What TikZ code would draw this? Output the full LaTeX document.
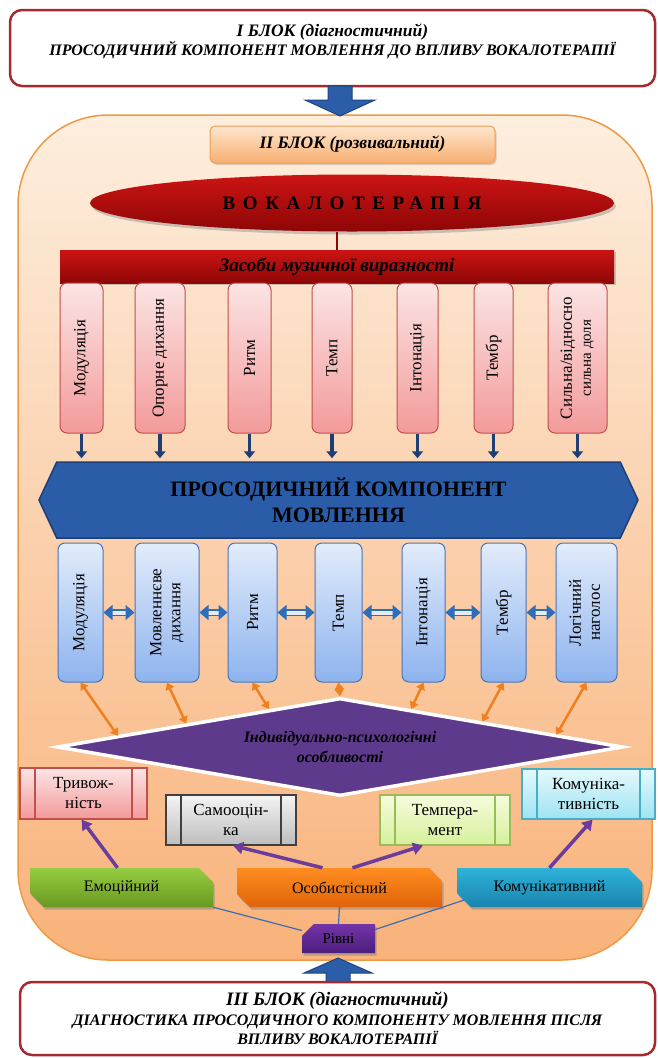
\documentclass[tikz,border=0pt]{standalone}
\usepackage{fontspec}
\setmainfont{Liberation Serif}
\newfontfamily\spacedfont[LetterSpace=40]{Liberation Serif}
\usetikzlibrary{positioning, shapes, arrows.meta, shadows, calc}

\definecolor{blkred}{HTML}{A52A2D}
\definecolor{arrblue}{HTML}{2C5DA8}
\definecolor{arredge}{HTML}{1E4680}
\definecolor{contedge}{HTML}{EE9A45}
\definecolor{conttop}{HTML}{FDEEDE}
\definecolor{contbot}{HTML}{F9B27A}
\definecolor{peachedge}{HTML}{EEA055}
\definecolor{peachtop}{HTML}{FDE6CE}
\definecolor{peachbot}{HTML}{F8AE70}
\definecolor{redtop}{HTML}{CC1414}
\definecolor{redbot}{HTML}{8E0606}
\definecolor{pinkedge}{HTML}{C0504D}
\definecolor{pinktop}{HTML}{FCE4E4}
\definecolor{pinkbot}{HTML}{F39A9A}
\definecolor{navy}{HTML}{1F3F73}
\definecolor{hexblue}{HTML}{2A5CA8}
\definecolor{hexedge}{HTML}{1C3F78}
\definecolor{bluetop}{HTML}{E2ECFB}
\definecolor{bluebot}{HTML}{8DB3EE}
\definecolor{blueedge}{HTML}{4A74B8}
\definecolor{dblblue}{HTML}{2E6DB8}
\definecolor{orangearr}{HTML}{F07F1E}
\definecolor{diampurple}{HTML}{5D3A8C}
\definecolor{arrviolet}{HTML}{6A3D9C}
\definecolor{thinblue}{HTML}{3A6DB5}
\definecolor{grayedge}{HTML}{404040}
\definecolor{graytop}{HTML}{F4F4F4}
\definecolor{graybot}{HTML}{BDBDBD}
\definecolor{limeedge}{HTML}{9BBB59}
\definecolor{limetop}{HTML}{F6FCDD}
\definecolor{limebot}{HTML}{D6F09A}
\definecolor{cyanedge}{HTML}{4BACC6}
\definecolor{cyantop}{HTML}{E4F9FD}
\definecolor{cyanbot}{HTML}{9FE3F2}
\definecolor{greentop}{HTML}{96CC42}
\definecolor{greenbot}{HTML}{68991F}
\definecolor{orangetop}{HTML}{FF8C20}
\definecolor{orangebot}{HTML}{E0640A}
\definecolor{tealtop}{HTML}{2DB2DA}
\definecolor{tealbot}{HTML}{1A84AE}
\definecolor{plumtop}{HTML}{7434A6}
\definecolor{plumbot}{HTML}{4C1E7E}

\begin{document}
\begin{tikzpicture}[x=1pt, y=-1pt,
  block/.style={draw=blkred, line width=2.5pt, rounded corners=12pt, fill=white, align=center,
    font=\fontsize{16}{17}\selectfont\bfseries\itshape},
  tool/.style={draw=pinkedge, line width=1pt, rounded corners=7pt, top color=pinktop, bottom color=pinkbot,
    minimum height=150pt, inner sep=0pt, font=\fontsize{17}{19}\selectfont},
  part/.style={draw=blueedge, line width=1pt, rounded corners=7pt, top color=bluetop, bottom color=bluebot,
    minimum height=139pt, inner sep=0pt, font=\fontsize{17}{19}\selectfont},
  trait/.style={draw=#1, line width=1.2pt, minimum height=50pt, align=center, font=\fontsize{17}{20}\selectfont,
    path picture={
      \draw[#1, line width=1.2pt] ([xshift=15pt]path picture bounding box.north west) -- ([xshift=15pt]path picture bounding box.south west);
      \draw[#1, line width=1.2pt] ([xshift=-15pt]path picture bounding box.north east) -- ([xshift=-15pt]path picture bounding box.south east);}},
  tier/.style={chamfered rectangle, chamfered rectangle corners={north east, south west},
    chamfered rectangle xsep=7pt, chamfered rectangle ysep=7pt, minimum height=39pt, inner sep=0pt,
    font=\fontsize{16}{18}\selectfont, drop shadow={shadow xshift=1.5pt, shadow yshift=-2.5pt, opacity=0.5}},
  feed/.style={navy, line width=3.5pt, shorten >=3pt, -{Triangle[length=7pt, width=11pt]}},
  link/.style={dblblue, line width=1.5pt, double=bluetop, double distance=4pt,
    {Triangle[length=9pt, width=15pt]}-{Triangle[length=9pt, width=15pt]}},
  tie/.style={orangearr, line width=2.5pt, {Triangle[length=7pt, width=9pt]}-{Triangle[length=7pt, width=9pt]}},
  rise/.style={arrviolet, line width=3.5pt, -{Triangle[length=10pt, width=12pt]}},
  wire/.style={thinblue, line width=1.2pt},
  bigarrow/.style={fill=arrblue, draw=arredge, line width=1pt}
]
  \useasboundingbox (0,0) rectangle (658,1058);
  \node[draw=contedge, line width=1.5pt, rounded corners=90pt, top color=conttop, bottom color=contbot,
    minimum width=634pt, minimum height=845pt] (cont) at (335,537.5) {};

  \node[block, minimum width=645pt, minimum height=76pt] (blockone) at (332.5,48)
    {{\fontsize{17.5}{17}\selectfont I БЛОК (діагностичний)}\\ПРОСОДИЧНИЙ КОМПОНЕНТ МОВЛЕННЯ ДО ВПЛИВУ ВОКАЛОТЕРАПІЇ\\ \mbox{}};
  \filldraw[bigarrow] (328,86) -- (352,86) -- (352,100) -- (375,100) -- (340,116) -- (305,100) -- (328,100) -- cycle;

  \node[draw=peachedge, line width=1pt, rounded corners=5pt, top color=peachtop, bottom color=peachbot,
    minimum width=285pt, minimum height=37pt, font=\fontsize{17.5}{19}\selectfont\bfseries\itshape,
    drop shadow={shadow xshift=1.5pt, shadow yshift=-2pt, opacity=0.3}] (blocktwo) at (352.5,144.5) {II БЛОК (розвивальний)};

  \node[ellipse, top color=redtop, bottom color=redbot, minimum width=524pt, minimum height=57pt,
    drop shadow={shadow xshift=2pt, shadow yshift=-3pt, opacity=0.4},
    font=\fontsize{19}{21}\selectfont\spacedfont\bfseries] (voc) at (352,203) {ВОКАЛОТЕРАПІЯ};
  \node[rectangle, top color=redtop, bottom color=redbot, minimum width=554pt, minimum height=33pt,
    drop shadow={shadow xshift=1.5pt, shadow yshift=-2pt, opacity=0.4},
    font=\fontsize{19}{21}\selectfont\bfseries\itshape] (means) at (337,266.5) {Засоби музичної виразності};
  \draw[redbot, line width=2.5pt] (means.north) -- (means.north |- voc.south);

  \node[tool, minimum width=43pt] (modul) at (81.5,358) {\rotatebox{90}{Модуляція}};
  \node[tool, minimum width=50pt] (breath) at (160,358) {\rotatebox{90}{Опорне дихання}};
  \node[tool, minimum width=43pt] (rhythm) at (249.5,358) {\rotatebox{90}{Ритм}};
  \node[tool, minimum width=40pt] (tempo) at (332,358) {\rotatebox{90}{Темп}};
  \node[tool, minimum width=41pt] (inton) at (417.5,358) {\rotatebox{90}{Інтонація}};
  \node[tool, minimum width=39pt] (timbre) at (493.5,358) {\rotatebox{90}{Тембр}};
  \node[tool, minimum width=59pt] (beat) at (577.5,358)
    {\rotatebox{90}{\begin{tabular}{@{}c@{}}Сильна/відносно\\{\fontsize{15}{16}\selectfont сильна доля}\end{tabular}}};

  \node[signal, signal to=east and west, signal from=nowhere, signal pointer angle=130, fill=hexblue,
    draw=hexedge, line width=1.5pt, minimum width=599pt, minimum height=76pt, align=center,
    font=\fontsize{22}{26}\selectfont\bfseries] (hex) at (338.5,500) {ПРОСОДИЧНИЙ КОМПОНЕНТ\\МОВЛЕННЯ};
  \draw[feed] (modul.south) -- (modul.south |- hex.north);
  \draw[feed] (breath.south) -- (breath.south |- hex.north);
  \draw[feed] (rhythm.south) -- (rhythm.south |- hex.north);
  \draw[feed] (tempo.south) -- (tempo.south |- hex.north);
  \draw[feed] (inton.south) -- (inton.south |- hex.north);
  \draw[feed] (timbre.south) -- (timbre.south |- hex.north);
  \draw[feed] (beat.south) -- (beat.south |- hex.north);

  \node[part, minimum width=45pt] (pmod) at (80.5,612.5) {\rotatebox{90}{Модуляція}};
  \node[part, minimum width=64pt] (pbreath) at (167,612.5)
    {\rotatebox{90}{\begin{tabular}{@{}c@{}}Мовленнєве\\дихання\end{tabular}}};
  \node[part, minimum width=49pt] (prhythm) at (252.5,612.5) {\rotatebox{90}{Ритм}};
  \node[part, minimum width=47pt] (ptempo) at (338.5,612.5) {\rotatebox{90}{Темп}};
  \node[part, minimum width=43pt] (pinton) at (423.5,612.5) {\rotatebox{90}{Інтонація}};
  \node[part, minimum width=45pt] (ptimbre) at (503.5,612.5) {\rotatebox{90}{Тембр}};
  \node[part, minimum width=61pt] (pstress) at (586.5,612.5)
    {\rotatebox{90}{\begin{tabular}{@{}c@{}}Логічний\\наголос\end{tabular}}};
  \draw[link] (pmod) -- (pbreath);
  \draw[link] (pbreath) -- (prhythm);
  \draw[link] (prhythm) -- (ptempo);
  \draw[link] (ptempo) -- (pinton);
  \draw[link] (pinton) -- (ptimbre);
  \draw[link] (ptimbre) -- (pstress);

  \node[diamond, aspect=5.7, fill=diampurple, draw=white, line width=3.5pt, minimum width=566pt,
    minimum height=98pt, inner sep=0pt, align=center, font=\fontsize{16}{20}\selectfont\bfseries\itshape]
    (indiv) at (340,747) {Індивідуально-психологічні\\особливості};
  \draw[tie] (pmod.south) -- ($(indiv.west)!0.22!(indiv.north)$);
  \draw[tie] (pbreath.south) -- ($(indiv.west)!0.46!(indiv.north)$);
  \draw[tie] (prhythm.south) -- ($(indiv.west)!0.75!(indiv.north)$);
  \draw[tie] (ptempo.south) -- (indiv.north);
  \draw[tie] (pinton.south) -- ($(indiv.north)!0.25!(indiv.east)$);
  \draw[tie] (ptimbre.south) -- ($(indiv.north)!0.5!(indiv.east)$);
  \draw[tie] (pstress.south) -- ($(indiv.north)!0.76!(indiv.east)$);

  \node[trait=pinkedge, top color=pinktop, bottom color=pinkbot, minimum width=127pt, minimum height=51pt]
    (anx) at (83.5,793.5) {Тривож-\\ність};
  \node[trait=grayedge, top color=graytop, bottom color=graybot, minimum width=130pt]
    (self) at (231,820) {Самооцін-\\ка};
  \node[trait=limeedge, top color=limetop, bottom color=limebot, minimum width=130pt]
    (temper) at (445,820) {Темпера-\\мент};
  \node[trait=cyanedge, top color=cyantop, bottom color=cyanbot, minimum width=133pt]
    (sociab) at (588.5,794) {Комуніка-\\тивність};

  \node[tier, top color=greentop, bottom color=greenbot, minimum width=183pt] (emo) at (121.5,887.5) {Емоційний};
  \node[tier, top color=orangetop, bottom color=orangebot, minimum width=205pt] (pers) at (339.5,887.5) {Особистісний};
  \node[tier, top color=tealtop, bottom color=tealbot, minimum width=185pt] (comm) at (549.5,887.5) {Комунікативний};
  \node[tier, chamfered rectangle corners=north west, top color=plumtop, bottom color=plumbot,
    minimum width=73pt, minimum height=29pt, font=\fontsize{15}{17}\selectfont] (levels) at (338.5,938.5) {Рівні};
  \draw[wire] (emo.south east) -- ($(levels.west)+(0,-8)$);
  \draw[wire] (pers.south) -- (levels.north);
  \draw[wire] (comm.south west) -- ($(levels.east)+(0,-9)$);
  \draw[rise] ($(emo.north)+(-4,0)$) -- ($(anx.south)+(-2,0)$);
  \draw[rise] ($(pers.north)+(-17,0)$) -- ($(self.south)+(2,0)$);
  \draw[rise] ($(pers.north)+(13,0)$) -- ($(temper.south)+(-22,0)$);
  \draw[rise] (comm.north) -- ($(sociab.south)+(4,0)$);

  \filldraw[bigarrow] (326,982) -- (350,982) -- (350,973) -- (372,973) -- (338,958) -- (304,973) -- (326,973) -- cycle;
  \node[block, minimum width=635pt, minimum height=73pt, font=\fontsize{16}{19.5}\selectfont\bfseries\itshape]
    (blockthree) at (337.5,1018.5)
    {{\fontsize{19}{19.5}\selectfont III БЛОК (діагностичний)}\\ДІАГНОСТИКА ПРОСОДИЧНОГО КОМПОНЕНТУ МОВЛЕННЯ ПІСЛЯ\\ВПЛИВУ ВОКАЛОТЕРАПІЇ};
\end{tikzpicture}
\end{document}
